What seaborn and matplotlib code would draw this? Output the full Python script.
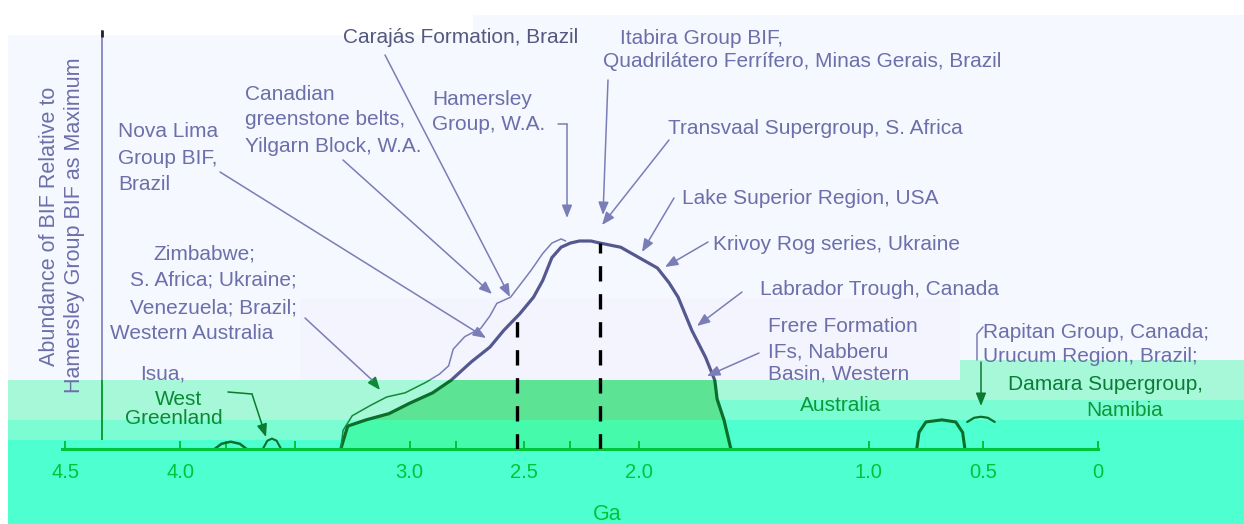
import matplotlib
matplotlib.use("Agg")
import matplotlib.pyplot as plt
import seaborn as sns
import pandas as pd
from matplotlib.patches import Rectangle
from matplotlib.lines import Line2D
from matplotlib.transforms import Bbox, TransformedBbox

# ---- data -------------------------------------------------------------
# Main BIF abundance curve: age (Ga) vs abundance relative to Hamersley (=1)
main_ga = [3.30, 3.27, 3.19, 3.09, 3.00, 2.90, 2.82, 2.73, 2.65, 2.59, 2.52, 2.46,
           2.42, 2.38, 2.34, 2.30, 2.26, 2.21, 2.17, 2.08, 2.00, 1.92, 1.87, 1.83,
           1.77, 1.71, 1.67, 1.66, 1.63, 1.60]
main_ab = [0.00, 0.11, 0.14, 0.17, 0.22, 0.27, 0.33, 0.42, 0.49, 0.57, 0.65, 0.73,
           0.81, 0.92, 0.97, 0.99, 1.00, 1.00, 0.99, 0.97, 0.92, 0.87, 0.80, 0.73,
           0.57, 0.44, 0.33, 0.24, 0.14, 0.00]

# Thin envelope of the older greenstone-belt iron formations
env_ga = [3.30, 3.29, 3.25, 3.17, 3.10, 3.02, 2.93, 2.87, 2.83, 2.81, 2.76, 2.69,
          2.65, 2.62, 2.56, 2.47, 2.42, 2.38, 2.34, 2.32]
env_ab = [0.00, 0.09, 0.16, 0.21, 0.25, 0.27, 0.32, 0.36, 0.40, 0.48, 0.54, 0.58,
          0.64, 0.70, 0.73, 0.86, 0.94, 0.99, 1.01, 1.00]

# Isua occurrences
isua_ga = [3.85, 3.82, 3.78, 3.74, 3.71]
isua_ab = [0.00, 0.025, 0.035, 0.025, 0.00]
isua2_ga = [3.64, 3.62, 3.60, 3.58, 3.56]
isua2_ab = [0.00, 0.04, 0.05, 0.04, 0.00]

# Neoproterozoic iron formations
neo_ga = [0.79, 0.78, 0.75, 0.68, 0.62, 0.59, 0.58]
neo_ab = [0.00, 0.08, 0.13, 0.14, 0.13, 0.08, 0.00]
neo2_ga = [0.57, 0.54, 0.51, 0.48, 0.45]
neo2_ab = [0.13, 0.15, 0.155, 0.15, 0.13]

# Dashed reference ages and their heights
dash_ga = [2.53, 2.17]
dash_top = [0.62, 0.99]

tick_values = [4.5, 4.0, 3.0, 2.5, 2.0, 1.0, 0.5, 0.0]
tick_labels = ["4.5", "4.0", "3.0", "2.5", "2.0", "1.0", "0.5", "0"]
minor_values = [3.8, 3.5, 2.8, 2.3]

# ---- style ------------------------------------------------------------
sns.set_theme(style="white")
plt.rcParams["font.family"] = ["Liberation Sans", "DejaVu Sans"]

W, H = 1244, 524
BLUE_TXT = "#6c6fa9"
BLUE_LINE = "#7b7db6"
CURVE_BLUE = "#55588f"
GREEN_AX = "#00c43a"
GREEN_TXT = "#0a9a3a"
CURVE_GREEN = "#0b6e2a"

fig = plt.figure(figsize=(W / 100, H / 100), dpi=100)
fig.patch.set_facecolor("white")


def fig_rect(x0, y0, x1, y1, color, z=-10):
    fig.add_artist(Rectangle((x0 / W, 1 - y1 / H), (x1 - x0) / W, (y1 - y0) / H,
                             transform=fig.transFigure, facecolor=color,
                             edgecolor="none", zorder=z))


def clip_to(artist, x0, y0, x1, y1):
    bb = TransformedBbox(Bbox.from_extents(x0 / W, 1 - y1 / H, x1 / W, 1 - y0 / H),
                         fig.transFigure)
    artist.set_clip_box(bb)
    artist.set_clip_on(True)


# background bands
fig_rect(8, 35, W, 380, "#f5f8ff")
fig_rect(473, 15, W, 35, "#f5f8ff")
fig_rect(300, 298, 960, 380, "#f3f4fd")
fig_rect(8, 380, 700, 420, "#a6f8d9")
fig_rect(8, 420, 700, 440, "#7cfcd3")
fig_rect(8, 440, W, H, "#4effd0")
fig_rect(700, 380, W, 400, "#a6f8d9")
fig_rect(960, 360, W, 380, "#a6f8d9")
fig_rect(700, 400, W, 420, "#7cfcd3")
fig_rect(700, 420, W, 440, "#4effd0")

# axes: x from 4.515 Ga (left) to 0 Ga (right)
ax = fig.add_axes([62 / W, 1 - 449 / H, (1098 - 62) / W, (449 - 30) / H])
ax.patch.set_alpha(0)
ax.set_xlim(4.515, 0.0)
ax.set_ylim(0, 419 / 208)

df_main = pd.DataFrame({"Ga": main_ga, "abundance": main_ab})
df_env = pd.DataFrame({"Ga": env_ga, "abundance": env_ab})

# filled area under the main curve inside the green bands
f1 = ax.fill_between(main_ga, main_ab, 0, color="#5de394", lw=0, zorder=0.5)
clip_to(f1, 0, 380, W, 420)
f2 = ax.fill_between(main_ga, main_ab, 0, color="#45fbab", lw=0, zorder=0.5)
clip_to(f2, 0, 420, W, 449)

# main curve and envelope, coloured per band
for col_thick, col_thin, region in [(CURVE_BLUE, BLUE_LINE, (0, 0, W, 380)),
                                    (CURVE_GREEN, "#138a36", (0, 380, W, H))]:
    sns.lineplot(data=df_main, x="Ga", y="abundance", sort=False, estimator=None,
                 color=col_thick, lw=2.3, ax=ax)
    clip_to(ax.lines[-1], *region)
    sns.lineplot(data=df_env, x="Ga", y="abundance", sort=False, estimator=None,
                 color=col_thin, lw=1.1, ax=ax)
    clip_to(ax.lines[-1], *region)

for gx, gy, lw in [(isua_ga, isua_ab, 1.8), (isua2_ga, isua2_ab, 1.5),
                   (neo_ga, neo_ab, 2.2), (neo2_ga, neo2_ab, 1.6)]:
    sns.lineplot(x=gx, y=gy, sort=False, estimator=None, color=CURVE_GREEN,
                 lw=lw, ax=ax)

ax.vlines(dash_ga, 0, dash_top, colors="black", lw=2.4,
          linestyles=(0, (4.6, 3.8)), zorder=4)

# vertical axis line (dark cap at the top)
ax.vlines([4.34], 0.33, 419 / 208, colors=BLUE_LINE, lw=1.2)
ax.vlines([4.34], (449 - 37) / 208, 419 / 208, colors="#222222", lw=2.0)
ax.vlines([4.34], 0.043, 0.33, colors="#0c9a36", lw=1.4)

for side in ["left", "top", "right"]:
    ax.spines[side].set_visible(False)
ax.spines["bottom"].set_color(GREEN_AX)
ax.spines["bottom"].set_linewidth(2.2)

ax.set_xticks(tick_values)
ax.set_xticklabels(tick_labels)
ax.set_xticks(minor_values, minor=True)
ax.set_yticks([])
ax.tick_params(axis="x", which="both", direction="in", length=6, width=1.4,
               color=GREEN_AX, labelcolor=GREEN_AX, labelsize=14.5, pad=10,
               bottom=True)
ax.set_ylabel("")
ax.set_xlabel("Ga", fontsize=15.5, color=GREEN_AX)
ax.xaxis.set_label_coords((607 - 62) / (1098 - 62), -(504 - 449) / 419)

# y axis title
fig.text(50 / W, 1 - 226 / H, "Abundance of BIF Relative to", rotation=90,
         ha="center", va="center", fontsize=15.5, color=BLUE_TXT)
fig.text(75 / W, 1 - 225 / H, "Hamersley Group BIF as Maximum", rotation=90,
         ha="center", va="center", fontsize=15.5, color=BLUE_TXT)


def put(x, y, s, color=BLUE_TXT, size=15):
    fig.text(x / W, 1 - y / H, s, color=color, fontsize=size,
             ha="left", va="baseline")


labels = [
    (343, 43, "Carajás Formation, Brazil", "#55587f"),
    (620, 44, "Itabira Group BIF,", BLUE_TXT),
    (603, 67, "Quadrilátero Ferrífero, Minas Gerais, Brazil", BLUE_TXT),
    (432, 105, "Hamersley", BLUE_TXT),
    (432, 130, "Group, W.A.", BLUE_TXT),
    (245, 100, "Canadian", BLUE_TXT),
    (245, 125, "greenstone belts,", BLUE_TXT),
    (245, 152, "Yilgarn Block, W.A.", BLUE_TXT),
    (118, 137, "Nova Lima", BLUE_TXT),
    (118, 164, "Group BIF,", BLUE_TXT),
    (118, 190, "Brazil", BLUE_TXT),
    (668, 134, "Transvaal Supergroup, S. Africa", BLUE_TXT),
    (682, 204, "Lake Superior Region, USA", BLUE_TXT),
    (713, 250, "Krivoy Rog series, Ukraine", BLUE_TXT),
    (760, 295, "Labrador Trough, Canada", BLUE_TXT),
    (768, 332, "Frere Formation", BLUE_TXT),
    (768, 358, "IFs, Nabberu", BLUE_TXT),
    (768, 380, "Basin, Western", BLUE_TXT),
    (800, 411, "Australia", GREEN_TXT),
    (983, 338, "Rapitan Group, Canada;", BLUE_TXT),
    (983, 362, "Urucum Region, Brazil;", BLUE_TXT),
    (1008, 390, "Damara Supergroup,", "#0a7d35"),
    (1086, 416, "Namibia", GREEN_TXT),
    (153, 259, "Zimbabwe;", BLUE_TXT),
    (130, 286, "S. Africa; Ukraine;", BLUE_TXT),
    (130, 313, "Venezuela; Brazil;", BLUE_TXT),
    (110, 339, "Western Australia", BLUE_TXT),
    (140, 379, "Isua,", BLUE_TXT),
    (155, 405, "West", "#0a8a35"),
    (125, 424, "Greenland", "#0a8a35"),
]
for x, y, s, c in labels:
    put(x, y, s, c)


def leader(points, color, lw=1.0, head=True):
    pts = [(x, H - y) for x, y in points]
    body = pts[:-1] if head else pts
    if len(body) > 1:
        fig.add_artist(Line2D([p[0] / W for p in body], [p[1] / H for p in body],
                              transform=fig.transFigure, color=color, lw=lw))
    if head:
        ax.annotate("", xy=pts[-1], xycoords="figure pixels", xytext=pts[-2],
                    textcoords="figure pixels",
                    arrowprops=dict(arrowstyle="-|>,head_length=0.55,head_width=0.22",
                                    color=color, lw=lw, mutation_scale=14,
                                    shrinkA=0, shrinkB=0))


leaders = [
    ([(385, 55), (510, 297)], BLUE_LINE, True),
    ([(608, 80), (603, 215)], BLUE_LINE, True),
    ([(669, 140), (602, 225)], BLUE_LINE, True),
    ([(558, 124), (567, 124), (567, 218)], BLUE_LINE, True),
    ([(343, 160), (492, 294)], BLUE_LINE, True),
    ([(220, 172), (486, 338)], BLUE_LINE, True),
    ([(674, 198), (642, 252)], BLUE_LINE, True),
    ([(708, 242), (665, 267)], BLUE_LINE, True),
    ([(742, 292), (697, 326)], BLUE_LINE, True),
    ([(759, 353), (707, 376)], BLUE_LINE, True),
    ([(305, 318), (372, 380)], BLUE_LINE, False),
    ([(372, 380), (380, 390)], "#0c8a34", True),
    ([(228, 392), (252, 394), (266, 437)], "#0c7a30", True),
    ([(983, 327), (977, 334), (977, 360)], BLUE_LINE, False),
    ([(981, 362), (981, 406)], "#0c7a30", True),
]
for pts, c, h in leaders:
    leader(pts, c, lw=1.1, head=h)

fig.savefig("out.png", dpi=100, facecolor="white")
